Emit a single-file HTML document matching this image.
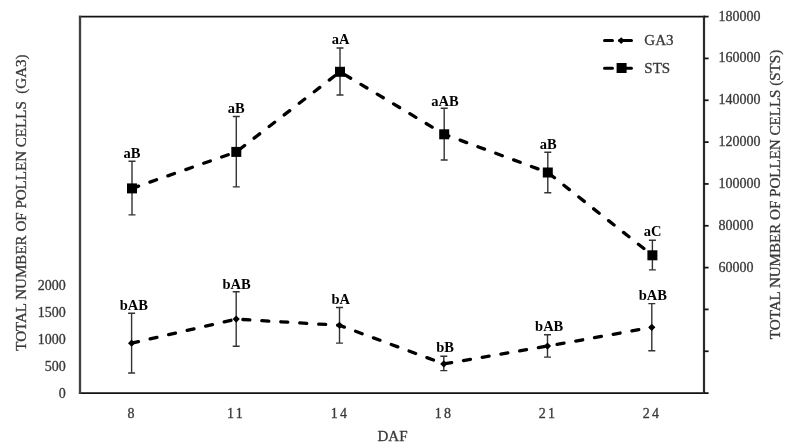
<!DOCTYPE html>
<html><head><meta charset="utf-8"><style>
html,body{margin:0;padding:0;background:#fff;width:800px;height:446px;overflow:hidden}
svg{display:block;will-change:transform}
text{font-family:"Liberation Serif",serif}
.tk{font-size:14px;fill:#383838;stroke:#383838;stroke-width:0.3px}
.ttl{font-size:15.05px;fill:#383838;stroke:#383838;stroke-width:0.3px}
.lg{font-size:15px;fill:#383838;stroke:#383838;stroke-width:0.3px}
.dl{font-size:14.5px;font-weight:bold;fill:#000}
</style></head><body>
<svg width="800" height="446" viewBox="0 0 800 446">
<path d="M78.9,16.6 H705.1 M78.9,393.1 H705.1" fill="none" stroke="#121212" stroke-width="1.9"/>
<path d="M80,15.650000000000002 V394.05" fill="none" stroke="#404040" stroke-width="2.3"/>
<path d="M704,15.650000000000002 V394.05" fill="none" stroke="#2a2a2a" stroke-width="2.2"/>
<line x1="704" y1="16.60" x2="708.6" y2="16.60" stroke="#141414" stroke-width="1.75"/>
<line x1="704" y1="58.43" x2="708.6" y2="58.43" stroke="#141414" stroke-width="1.75"/>
<line x1="704" y1="100.27" x2="708.6" y2="100.27" stroke="#141414" stroke-width="1.75"/>
<line x1="704" y1="142.10" x2="708.6" y2="142.10" stroke="#141414" stroke-width="1.75"/>
<line x1="704" y1="183.93" x2="708.6" y2="183.93" stroke="#141414" stroke-width="1.75"/>
<line x1="704" y1="225.77" x2="708.6" y2="225.77" stroke="#141414" stroke-width="1.75"/>
<line x1="704" y1="267.60" x2="708.6" y2="267.60" stroke="#141414" stroke-width="1.75"/>
<line x1="704" y1="309.43" x2="708.6" y2="309.43" stroke="#141414" stroke-width="1.75"/>
<line x1="704" y1="351.27" x2="708.6" y2="351.27" stroke="#141414" stroke-width="1.75"/>
<line x1="704" y1="393.10" x2="708.6" y2="393.10" stroke="#141414" stroke-width="1.75"/>
<text x="718.5" y="20.50" class="tk">180000</text>
<text x="718.5" y="62.33" class="tk">160000</text>
<text x="718.5" y="104.17" class="tk">140000</text>
<text x="718.5" y="146.00" class="tk">120000</text>
<text x="718.5" y="187.83" class="tk">100000</text>
<text x="718.5" y="229.67" class="tk">80000</text>
<text x="718.5" y="271.50" class="tk">60000</text>
<text x="65.8" y="397.90" class="tk" text-anchor="end">0</text>
<text x="65.8" y="371.01" class="tk" text-anchor="end">500</text>
<text x="65.8" y="344.11" class="tk" text-anchor="end">1000</text>
<text x="65.8" y="317.22" class="tk" text-anchor="end">1500</text>
<text x="65.8" y="290.33" class="tk" text-anchor="end">2000</text>
<text x="131" y="417.8" class="tk" text-anchor="middle">8</text>
<text x="236.1" y="417.8" class="tk" text-anchor="middle" letter-spacing="2.4">11</text>
<text x="340.1" y="417.8" class="tk" text-anchor="middle" letter-spacing="2.4">14</text>
<text x="444.1" y="417.8" class="tk" text-anchor="middle" letter-spacing="2.4">18</text>
<text x="548.1" y="417.8" class="tk" text-anchor="middle" letter-spacing="2.4">21</text>
<text x="652.1" y="417.8" class="tk" text-anchor="middle" letter-spacing="2.4">24</text>
<text x="392.5" y="441.3" class="ttl" text-anchor="middle">DAF</text>
<text transform="translate(25.6,202.6) rotate(-90)" class="ttl" text-anchor="middle" xml:space="preserve">TOTAL NUMBER OF POLLEN CELLS  (GA3)</text>
<text transform="translate(780.4,194.5) rotate(-90)" class="ttl" text-anchor="middle">TOTAL NUMBER OF POLLEN CELLS (STS)</text>
<path d="M132,161.2 V214.85 M128.5,161.2 H135.5 M128.5,214.85 H135.5" stroke="#333" stroke-width="1.4" fill="none"/>
<path d="M236.3,116.5 V186.9 M232.8,116.5 H239.8 M232.8,186.9 H239.8" stroke="#333" stroke-width="1.4" fill="none"/>
<path d="M340,48 V95 M336.5,48 H343.5 M336.5,95 H343.5" stroke="#333" stroke-width="1.4" fill="none"/>
<path d="M444.2,108.2 V160 M440.7,108.2 H447.7 M440.7,160 H447.7" stroke="#333" stroke-width="1.4" fill="none"/>
<path d="M547.8,152.2 V192.8 M544.3,152.2 H551.3 M544.3,192.8 H551.3" stroke="#333" stroke-width="1.4" fill="none"/>
<path d="M652.4,240.2 V269.9 M648.9,240.2 H655.9 M648.9,269.9 H655.9" stroke="#333" stroke-width="1.4" fill="none"/>
<path d="M131.6,313.2 V373 M128.1,313.2 H135.1 M128.1,373 H135.1" stroke="#333" stroke-width="1.4" fill="none"/>
<path d="M236.2,291.7 V346.3 M232.7,291.7 H239.7 M232.7,346.3 H239.7" stroke="#333" stroke-width="1.4" fill="none"/>
<path d="M339.5,307.5 V343.1 M336.0,307.5 H343.0 M336.0,343.1 H343.0" stroke="#333" stroke-width="1.4" fill="none"/>
<path d="M443.8,356.2 V370.6 M440.3,356.2 H447.3 M440.3,370.6 H447.3" stroke="#333" stroke-width="1.4" fill="none"/>
<path d="M547.5,334.8 V357.1 M544.0,334.8 H551.0 M544.0,357.1 H551.0" stroke="#333" stroke-width="1.4" fill="none"/>
<path d="M651.8,303.6 V350.8 M648.3,303.6 H655.3 M648.3,350.8 H655.3" stroke="#333" stroke-width="1.4" fill="none"/>
<polyline points="132,188.4 236.3,151.9 340,71.8 444.2,134.3 547.8,172.5 652.4,255.3" fill="none" stroke="#000" stroke-width="3.3" stroke-dasharray="7 12" stroke-linecap="round"/>
<polyline points="131.6,343.2 236.2,319.1 339.5,325.3 443.8,363.9 547.5,346.1 651.8,327.3" fill="none" stroke="#000" stroke-width="3.3" stroke-dasharray="7 12" stroke-linecap="round"/>
<rect x="127" y="183.4" width="10" height="10" fill="#000"/>
<rect x="231.3" y="146.9" width="10" height="10" fill="#000"/>
<rect x="335" y="66.8" width="10" height="10" fill="#000"/>
<rect x="439.2" y="129.3" width="10" height="10" fill="#000"/>
<rect x="542.8" y="167.5" width="10" height="10" fill="#000"/>
<rect x="647.4" y="250.3" width="10" height="10" fill="#000"/>
<path d="M128.0,343.2 L131.6,339.59999999999997 L135.2,343.2 L131.6,346.8 Z" fill="#000"/>
<path d="M232.6,319.1 L236.2,315.5 L239.79999999999998,319.1 L236.2,322.70000000000005 Z" fill="#000"/>
<path d="M335.9,325.3 L339.5,321.7 L343.1,325.3 L339.5,328.90000000000003 Z" fill="#000"/>
<path d="M440.2,363.9 L443.8,360.29999999999995 L447.40000000000003,363.9 L443.8,367.5 Z" fill="#000"/>
<path d="M543.9,346.1 L547.5,342.5 L551.1,346.1 L547.5,349.70000000000005 Z" fill="#000"/>
<path d="M648.1999999999999,327.3 L651.8,323.7 L655.4,327.3 L651.8,330.90000000000003 Z" fill="#000"/>
<text x="132" y="158" class="dl" text-anchor="middle">aB</text>
<text x="236.3" y="113" class="dl" text-anchor="middle">aB</text>
<text x="340.5" y="43.5" class="dl" text-anchor="middle">aA</text>
<text x="445" y="105.5" class="dl" text-anchor="middle">aAB</text>
<text x="548.3" y="149.3" class="dl" text-anchor="middle">aB</text>
<text x="652.7" y="235.7" class="dl" text-anchor="middle">aC</text>
<text x="133.8" y="310.4" class="dl" text-anchor="middle">bAB</text>
<text x="236.6" y="288.7" class="dl" text-anchor="middle">bAB</text>
<text x="340.7" y="303.7" class="dl" text-anchor="middle">bA</text>
<text x="445" y="352.2" class="dl" text-anchor="middle">bB</text>
<text x="549.2" y="331.4" class="dl" text-anchor="middle">bAB</text>
<text x="652.8" y="300.2" class="dl" text-anchor="middle">bAB</text>
<path d="M604.5,40.6 H612.5 M619.5,40.6 H631.5" stroke="#000" stroke-width="3" stroke-linecap="round"/>
<path d="M617.8,40.6 L621.2,37.2 L624.6,40.6 L621.2,44 Z" fill="#000"/>
<path d="M604.5,68.3 H612.5 M619.5,68.3 H631.5" stroke="#000" stroke-width="3" stroke-linecap="round"/>
<rect x="616.6" y="63" width="10" height="10" fill="#000"/>
<text x="644.3" y="44.8" class="lg">GA3</text>
<text x="644.3" y="72.8" class="lg">STS</text>
</svg>
</body></html>
